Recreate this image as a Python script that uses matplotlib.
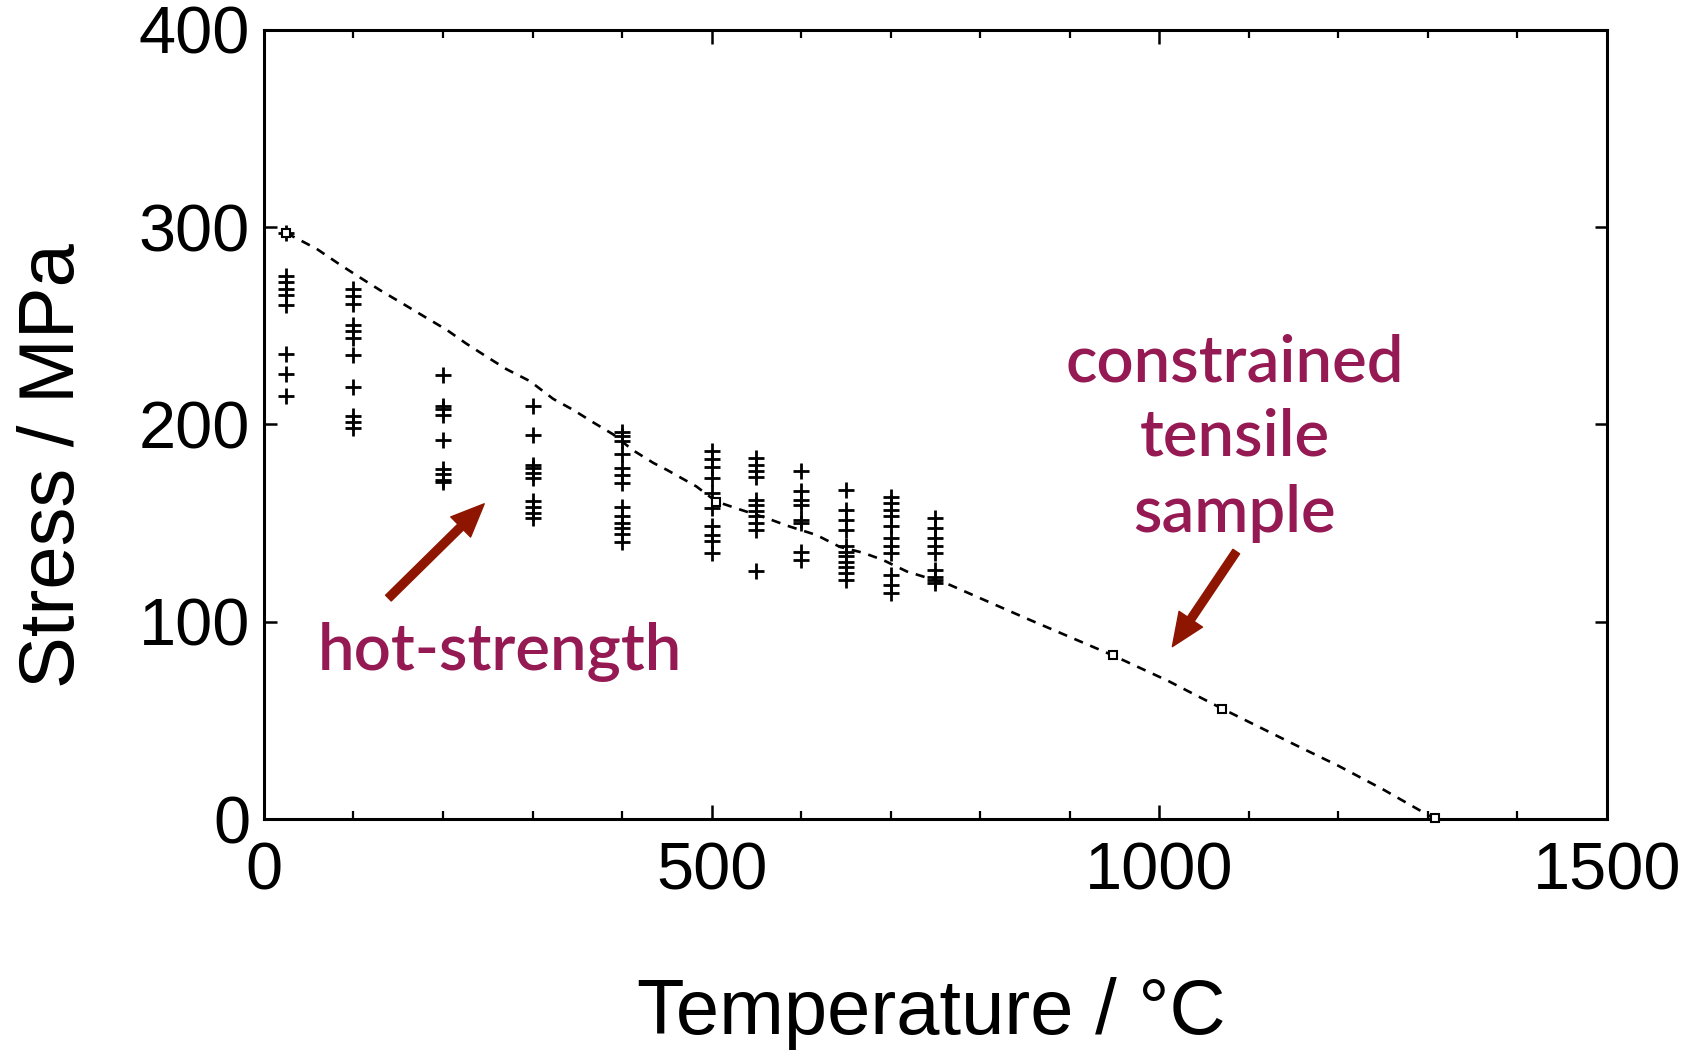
import matplotlib
matplotlib.use('Agg')
import matplotlib.pyplot as plt
from matplotlib.patches import FancyArrowPatch, ArrowStyle
from matplotlib.ticker import MultipleLocator

# ---- data ----
hot_T = [25, 100, 200, 300, 400, 500, 550, 600, 650, 700, 750]
hot_25 = [297, 275.5, 272, 268.5, 265.5, 260.5, 235.5, 225.5, 214.5]
hot_100 = [268.7, 265, 261.3, 250.6, 247.2, 243.9, 235.4, 218.8, 204.1, 201.1, 198.2]
hot_200 = [225.3, 209.2, 207.8, 205, 192.3, 177.4, 175, 172, 171]
hot_300 = [209.2, 194.8, 179.6, 177.9, 175.4, 172.9, 161, 158.4, 155.1, 152.6]
hot_400 = [196, 194, 191.4, 185, 178, 174.5, 170.3, 158.4, 153.4, 150, 147.5, 144.5, 140.5]
hot_500 = [186.4, 182.5, 178.7, 172.9, 165.2, 157.6, 148.3, 144.1, 140.7, 134.8]
hot_550 = [183, 179.6, 176.2, 173.4, 161.8, 159.3, 156.4, 153.4, 150, 146.6, 125.5]
hot_600 = [176.2, 166.1, 161.8, 159.3, 151.7, 150.3, 135.6, 131.4]
hot_650 = [166.9, 156.8, 151.7, 146.6, 138.2, 135.6, 133.1, 130.5, 128, 124.7, 121.3]
hot_700 = [163.5, 160.2, 156.8, 153.4, 148.3, 142.4, 138.2, 134.8, 123.8, 118.7, 114.5]
hot_750 = [152.6, 147.5, 142.4, 138.2, 134.8, 126.3, 122.9, 121.3, 119.6]
hot_stress = [hot_25, hot_100, hot_200, hot_300, hot_400, hot_500,
              hot_550, hot_600, hot_650, hot_700, hot_750]

line_T = [25, 38, 59, 85, 109, 130, 156, 178, 204, 226, 250, 271, 297, 323,
          345, 368, 390, 412, 435, 450, 483, 505, 531, 561, 587, 617, 643,
          669, 691, 718, 750, 766, 850, 948, 1010, 1070, 1150, 1200, 1250, 1308]
line_stress = [297, 294, 289, 281, 274, 268, 261, 255, 248, 241, 234, 228,
               222, 213, 207.5, 201, 195, 187, 180.5, 177, 168.6, 161, 157,
               152.6, 148.3, 144, 138, 135, 131.4, 125.5, 121, 118.7, 102,
               83, 70, 56, 38, 27, 15, 0]

sample_T = [25, 505, 948, 1070, 1308]
sample_stress = [297, 160.5, 83, 56, 0.5]

x_ticks = [0, 500, 1000, 1500]
y_ticks = [0, 100, 200, 300, 400]

# ---- figure ----
fig = plt.figure(figsize=(17.03, 10.51), dpi=100)
ax = fig.add_axes([0.155, 0.2207, 0.7886, 0.7508])

ax.plot(line_T, line_stress, color='black', lw=1.9, dashes=(3.5, 3), zorder=2)
for T, vals in zip(hot_T, hot_stress):
    ax.plot([T] * len(vals), vals, linestyle='none', marker='+', ms=11,
            mew=2.0, color='black', zorder=3)
ax.plot(sample_T, sample_stress, linestyle='none', marker='s', ms=6,
        mfc='white', mec='black', mew=1.5, clip_on=False, zorder=4)

ax.set_xlim(0, 1500)
ax.set_ylim(0, 400)
ax.set_xticks(x_ticks)
ax.set_yticks(y_ticks)
ax.xaxis.set_minor_locator(MultipleLocator(100))

for s in ax.spines.values():
    s.set_linewidth(2.2)

ax.tick_params(axis='x', which='major', direction='in', top=True, length=10,
               width=1.8, pad=16, labelsize=48)
ax.tick_params(axis='x', which='minor', direction='in', top=True, length=5.5,
               width=1.6)
ax.tick_params(axis='y', which='major', direction='in', right=True, length=9,
               width=1.8, pad=10, labelsize=48)
for lab in ax.get_xticklabels() + ax.get_yticklabels():
    lab.set_fontfamily('Liberation Sans')

fig.text(931 / 1703, 1 - 1034 / 1051, 'Temperature / °C', ha='center',
         va='baseline', fontsize=56, family='Liberation Sans')
fig.text(54 / 1703, 1 - 466 / 1051, 'Stress / MPa', ha='center', va='center',
         rotation=90, fontsize=56, family='Liberation Sans')

# ---- annotations ----
txt_color = '#951952'
arrow_color = '#8E1600'
ax.text(264, 75.6, 'hot-strength', ha='center', va='baseline', fontsize=47,
        family='Lato', fontweight=600, color=txt_color)
for word, yb in zip(['constrained', 'tensile', 'sample'], [221.9, 184.4, 145.6]):
    ax.text(1084, yb, word, ha='center', va='baseline', fontsize=47,
            family='Lato', fontweight=600, color=txt_color)

style = ArrowStyle.Simple(head_length=0.82, head_width=0.7, tail_width=0.2)
for (x0, y0), (x1, y1) in [((139, 112), (246, 159.8)),
                           ((1086, 135.6), (1014.6, 87.4))]:
    arr = FancyArrowPatch((x0, y0), (x1, y1), arrowstyle=style,
                          mutation_scale=29, color=arrow_color,
                          shrinkA=0, shrinkB=0, zorder=5)
    ax.add_patch(arr)

fig.savefig('out.png', dpi=100, facecolor='white')
